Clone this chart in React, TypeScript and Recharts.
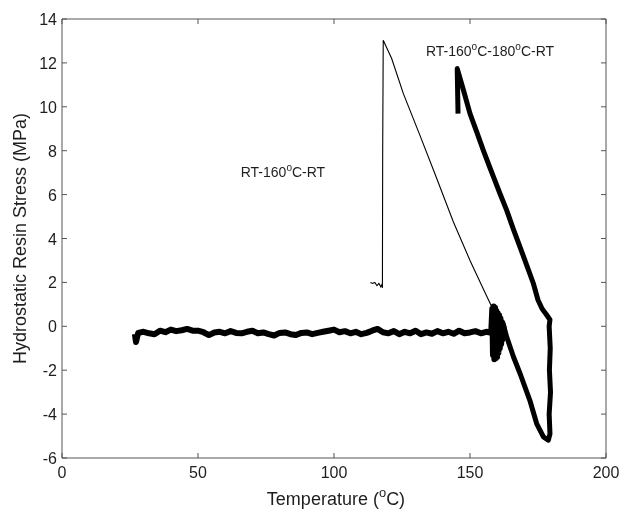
import { Label, Line, LineChart, ReferenceDot, XAxis, YAxis } from 'recharts';

// temperature (°C) / hydrostatic resin stress (MPa)
const heatingT = [
  26.8, 27.2, 27.6, 28, 30, 32, 34, 36, 38, 40, 42, 44, 46, 48, 50, 52, 54, 56, 58, 60,
  62, 64, 66, 68, 70, 72, 74, 76, 78, 80, 82, 84, 86, 88, 90, 92, 94, 96, 98, 100,
  102, 104, 106, 108, 110, 112, 114, 116, 118, 120, 122, 124, 126, 128, 130, 132, 134, 136, 138, 140,
  142, 144, 146, 148, 150, 152, 154, 156, 157.8, 158.2, 158.45, 158.7, 158.95, 159.2, 159.45, 159.7,
  159.95, 160.2, 160.45, 160.7, 160.95, 161.2, 161.45, 161.7, 161.95, 162.2, 162.5,
];
const heatingS = [
  -0.35, -0.72, -0.5, -0.3, -0.25, -0.32, -0.36, -0.2, -0.27, -0.15, -0.22, -0.18, -0.12, -0.2, -0.2, -0.27, -0.4, -0.28, -0.25, -0.32,
  -0.22, -0.3, -0.32, -0.25, -0.2, -0.32, -0.28, -0.36, -0.42, -0.3, -0.28, -0.36, -0.4, -0.3, -0.28, -0.36, -0.3, -0.25, -0.2, -0.15,
  -0.27, -0.22, -0.32, -0.25, -0.36, -0.3, -0.2, -0.12, -0.27, -0.32, -0.22, -0.36, -0.25, -0.32, -0.2, -0.36, -0.28, -0.34, -0.22, -0.32,
  -0.25, -0.34, -0.2, -0.32, -0.28, -0.22, -0.32, -0.25, -0.3, 0.8, -1.3, 0.9, -1.5, 0.85, -1.45, 0.7,
  -1.4, 0.6, -1.2, 0.5, -1.0, 0.35, -0.8, 0.2, -0.6, 0.05, -0.3,
];

// RT-160°C-RT cooling (thin trace)
const coolT = [158.6, 154.9, 150, 143.9, 137.1, 131.6, 125.5, 121.2, 118.1, 117.9, 117.8, 117.6, 117.2, 116.5, 115.8, 115, 114.2, 113.4];
const coolS = [0.73, 1.7, 3.0, 4.75, 6.95, 8.7, 10.6, 12.2, 13.03, 8, 1.75, 1.9, 1.8, 1.95, 1.85, 2.0, 1.95, 2.0];

// RT-160°C-180°C-RT (thick loop)
const loopT = [
  162, 163.5, 166, 168.4, 172, 174.5, 177, 178.8, 179.4, 179.1, 179.6, 179.2, 179.5, 179.1, 179.4, 178,
  176.5, 175, 173.3, 170.8, 168.4, 166, 163.5, 161, 158.6, 157.4, 154.9, 152.5, 150, 147.5, 145.3, 145.6,
];
const loopS = [
  0.2, -0.49, -1.4, -2.15, -3.37, -4.43, -5.04, -5.19, -4.9, -4, -3, -2, -1, 0, 0.3, 0.55,
  0.8, 1.2, 1.95, 2.8, 3.61, 4.4, 5.28, 6.05, 6.82, 7.2, 8.02, 8.85, 9.69, 10.8, 11.74, 9.69,
];

const xTicks = [0, 50, 100, 150, 200];
const yTicks = [-6, -4, -2, 0, 2, 4, 6, 8, 10, 12, 14];

const heating = heatingT.map((t, i) => ({ t, s: heatingS[i] }));
const cooling = coolT.map((t, i) => ({ t, s: coolS[i] }));
const loop = loopT.map((t, i) => ({ t, s: loopS[i] }));

const FONT = '"Liberation Sans", Arial, sans-serif';
const INK = '#1e1e1e';
const AXIS = '#555';
const TICK = 5;

function BottomTick({ x, y, payload }: any) {
  return (
    <g>
      <line x1={x} y1={y} x2={x} y2={y - TICK} stroke={AXIS} />
      <text x={x} y={y + 20} textAnchor="middle" fontSize={16} fontFamily={FONT} fill={INK}>
        {payload.value}
      </text>
    </g>
  );
}

function TopTick({ x, y }: any) {
  return <line x1={x} y1={y} x2={x} y2={y + TICK} stroke={AXIS} />;
}

function LeftTick({ x, y, payload }: any) {
  return (
    <g>
      <line x1={x} y1={y} x2={x + TICK} y2={y} stroke={AXIS} />
      <text x={x - 5} y={y + 6} textAnchor="end" fontSize={16} fontFamily={FONT} fill={INK}>
        {payload.value}
      </text>
    </g>
  );
}

function RightTick({ x, y }: any) {
  return <line x1={x} y1={y} x2={x - TICK} y2={y} stroke={AXIS} />;
}

function Degree({ parts, x, y, size, anchor }: { parts: string[]; x: number; y: number; size: number; anchor?: string }) {
  // parts alternate normal text / superscript "o"
  return (
    <text x={x} y={y} fontSize={size} fontFamily={FONT} fill={INK} textAnchor={anchor}>
      {parts.map((p, i) =>
        i % 2 === 1 ? (
          <tspan key={i} fontSize={size * 0.72} dy={-size * 0.42}>
            {p}
          </tspan>
        ) : (
          <tspan key={i} dy={i === 0 ? 0 : size * 0.42}>
            {p}
          </tspan>
        ),
      )}
    </text>
  );
}

export default function App() {
  return (
    <div style={{ position: 'fixed', left: 0, top: 0 }}>
      <LineChart width={622} height={509} margin={{ top: 0, right: 0, bottom: 0, left: 0 }}>
        <XAxis
          xAxisId="b"
          type="number"
          dataKey="t"
          domain={[0, 200]}
          ticks={xTicks}
          interval={0}
          allowDataOverflow
          height={51}
          tickSize={0}
          tickMargin={0}
          tick={<BottomTick />}
          axisLine={{ stroke: AXIS }}
        >
          <Label
            content={({ viewBox }: any) => (
              <Degree
                parts={['Temperature (', 'o', 'C)']}
                x={viewBox.x + viewBox.width / 2 + 2}
                y={viewBox.y + 47}
                size={18}
                anchor="middle"
              />
            )}
          />
        </XAxis>
        <XAxis
          xAxisId="t"
          orientation="top"
          type="number"
          dataKey="t"
          domain={[0, 200]}
          ticks={xTicks}
          interval={0}
          allowDataOverflow
          height={19}
          tickSize={0}
          tickMargin={0}
          tick={<TopTick />}
          axisLine={{ stroke: AXIS }}
        />
        <YAxis
          yAxisId="l"
          type="number"
          domain={[-6, 14]}
          ticks={yTicks}
          interval={0}
          allowDataOverflow
          width={62}
          tickSize={0}
          tickMargin={0}
          tick={<LeftTick />}
          axisLine={{ stroke: AXIS }}
        >
          <Label
            content={({ viewBox }: any) => {
              const cx = viewBox.x + 26;
              const cy = viewBox.y + viewBox.height / 2;
              return (
                <text
                  x={cx}
                  y={cy}
                  transform={`rotate(-90 ${cx} ${cy})`}
                  textAnchor="middle"
                  fontSize={18}
                  fontFamily={FONT}
                  fill={INK}
                >
                  Hydrostatic Resin Stress (MPa)
                </text>
              );
            }}
          />
        </YAxis>
        <YAxis
          yAxisId="r"
          orientation="right"
          type="number"
          domain={[-6, 14]}
          ticks={yTicks}
          interval={0}
          allowDataOverflow
          width={16}
          tickSize={0}
          tickMargin={0}
          tick={<RightTick />}
          axisLine={{ stroke: AXIS }}
        />
        <Line
          xAxisId="b"
          yAxisId="l"
          data={heating}
          dataKey="s"
          stroke="#000"
          strokeWidth={6}
          strokeLinejoin="round"
          dot={false}
          isAnimationActive={false}
        />
        <Line
          xAxisId="b"
          yAxisId="l"
          data={cooling}
          dataKey="s"
          stroke="#000"
          strokeWidth={1.1}
          dot={false}
          isAnimationActive={false}
        />
        <Line
          xAxisId="b"
          yAxisId="l"
          data={loop}
          dataKey="s"
          stroke="#000"
          strokeWidth={5}
          strokeLinejoin="round"
          dot={false}
          isAnimationActive={false}
        />
        <ReferenceDot
          xAxisId="b"
          yAxisId="l"
          x={65.7}
          y={6.8}
          r={0}
          stroke="none"
          fill="none"
          label={{
            content: ({ viewBox }: any) => <Degree parts={['RT-160', 'o', 'C-RT']} x={viewBox.x} y={viewBox.y} size={14} />,
          }}
        />
        <ReferenceDot
          xAxisId="b"
          yAxisId="l"
          x={133.8}
          y={12.3}
          r={0}
          stroke="none"
          fill="none"
          label={{
            content: ({ viewBox }: any) => (
              <Degree parts={['RT-160', 'o', 'C-180', 'o', 'C-RT']} x={viewBox.x} y={viewBox.y} size={14} />
            ),
          }}
        />
      </LineChart>
    </div>
  );
}
